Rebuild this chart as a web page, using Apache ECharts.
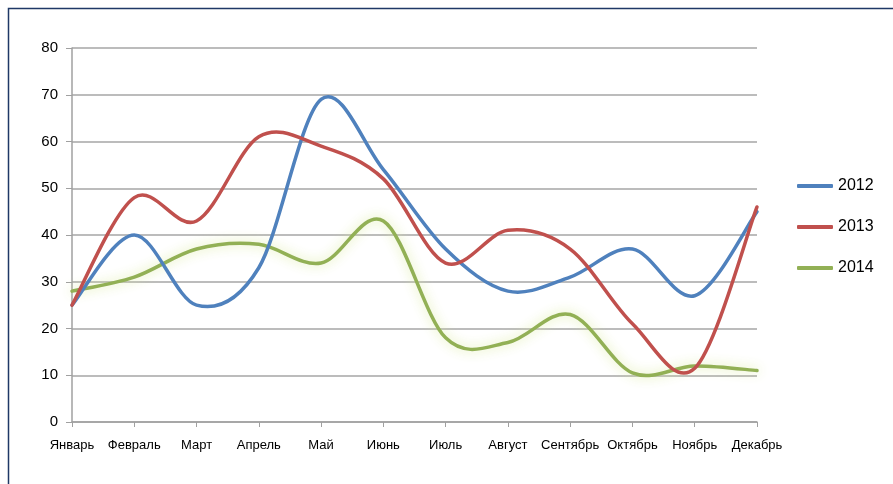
<!DOCTYPE html>
<html>
<head>
<meta charset="utf-8">
<script src="https://cdn.jsdelivr.net/npm/echarts@6/dist/echarts.min.js"></script>
<style>
  html, body { margin: 0; padding: 0; background: #fff; }
  #chart { width: 893px; height: 484px; }
</style>
</head>
<body>
<div id="chart"></div>
<script>
var months = ['Январь', 'Февраль', 'Март', 'Апрель', 'Май', 'Июнь', 'Июль', 'Август', 'Сентябрь', 'Октябрь', 'Ноябрь', 'Декабрь'];
var data2012 = [25, 40, 25, 33, 69, 54, 37, 28, 31, 37, 27, 45];
var data2013 = [25, 48, 43, 61, 59, 52, 34, 41, 37, 21, 11.5, 46];
var data2014 = [28, 31, 37, 38, 34, 43, 18, 17, 23, 10.5, 12, 11];
var yTicks = [0, 10, 20, 30, 40, 50, 60, 70, 80];

// excel-like smoothed line (catmull-rom), points placed by the chart's own axes
function smoothLine(values, color, extra) {
	return {
		name: extra.name,
		type: 'custom',
		z: extra.z,
		itemStyle: { color: color },
		data: values.map(function (v, i) { return [i, v]; }),
		encode: { x: 0, y: 1 },
		renderItem: function (params, api) {
			if (params.dataIndex !== 0) return null;
			var pts = values.map(function (v, i) { return api.coord([i, v]); });
			var n = pts.length;
			var d = 'M' + pts[0][0] + ',' + pts[0][1];
			for (var i = 0; i < n - 1; i++) {
				var p0 = pts[Math.max(i - 1, 0)];
				var p1 = pts[i];
				var p2 = pts[i + 1];
				var p3 = pts[Math.min(i + 2, n - 1)];
				var c1x = p1[0] + (p2[0] - p0[0]) / 6;
				var c1y = p1[1] + (p2[1] - p0[1]) / 6;
				var c2x = p2[0] - (p3[0] - p1[0]) / 6;
				var c2y = p2[1] - (p3[1] - p1[1]) / 6;
				d += ' C' + c1x + ',' + c1y + ' ' + c2x + ',' + c2y + ' ' + p2[0] + ',' + p2[1];
			}
			return {
				type: 'path',
				shape: { pathData: d },
				style: Object.assign({
					fill: null,
					stroke: color,
					lineWidth: 3.5,
					lineCap: 'round',
					lineJoin: 'round'
				}, extra.style || {})
			};
		}
	};
}

var chart = echarts.init(document.getElementById('chart'));

chart.setOption({
	animation: false,
	graphic: [{
		// dark frame, only left and top edges show
		type: 'polyline',
		shape: { points: [[8.5, 484], [8.5, 8.5], [893, 8.5]] },
		style: { stroke: '#1f3866', lineWidth: 1.5, fill: null }
	}],
	grid: {
		left: 72,
		right: 136,
		top: 48,
		bottom: 62
	},
	legend: {
		orient: 'vertical',
		left: 797,
		top: 178,
		padding: 0,
		itemWidth: 36,
		itemHeight: 4,
		itemGap: 25,
		icon: 'roundRect',
		textStyle: { fontFamily: 'Liberation Sans', fontSize: 16, color: '#000', lineHeight: 16, padding: [0, 0, 0, 0] },
		data: ['2012', '2013', '2014']
	},
	xAxis: {
		type: 'category',
		boundaryGap: false,
		data: months,
		axisLine: { lineStyle: { color: '#a0a0a0', width: 1.5 } },
		axisTick: { show: true, length: 5, alignWithLabel: true, lineStyle: { color: '#a0a0a0' } },
		axisLabel: { margin: 17, color: '#000', fontFamily: 'Liberation Sans', fontSize: 13, interval: 0 }
	},
	yAxis: {
		type: 'value',
		min: yTicks[0],
		max: yTicks[yTicks.length - 1],
		interval: 10,
		axisLine: { show: true, lineStyle: { color: '#a0a0a0', width: 1.5 } },
		axisTick: { show: true, length: 6, lineStyle: { color: '#a0a0a0' } },
		axisLabel: { margin: 14, color: '#000', fontFamily: 'Liberation Sans', fontSize: 15 },
		splitLine: { lineStyle: { color: '#a6a6a6', width: 1.5 } }
	},
	series: [
		smoothLine(data2014, '#92b055', {
			name: '2014', z: 1,
			style: { shadowColor: 'rgba(215,232,150,0.9)', shadowBlur: 12 }
		}),
		smoothLine(data2012, '#4f81bd', { name: '2012', z: 2 }),
		smoothLine(data2013, '#c0504d', { name: '2013', z: 3 })
	]
});
</script>
</body>
</html>
